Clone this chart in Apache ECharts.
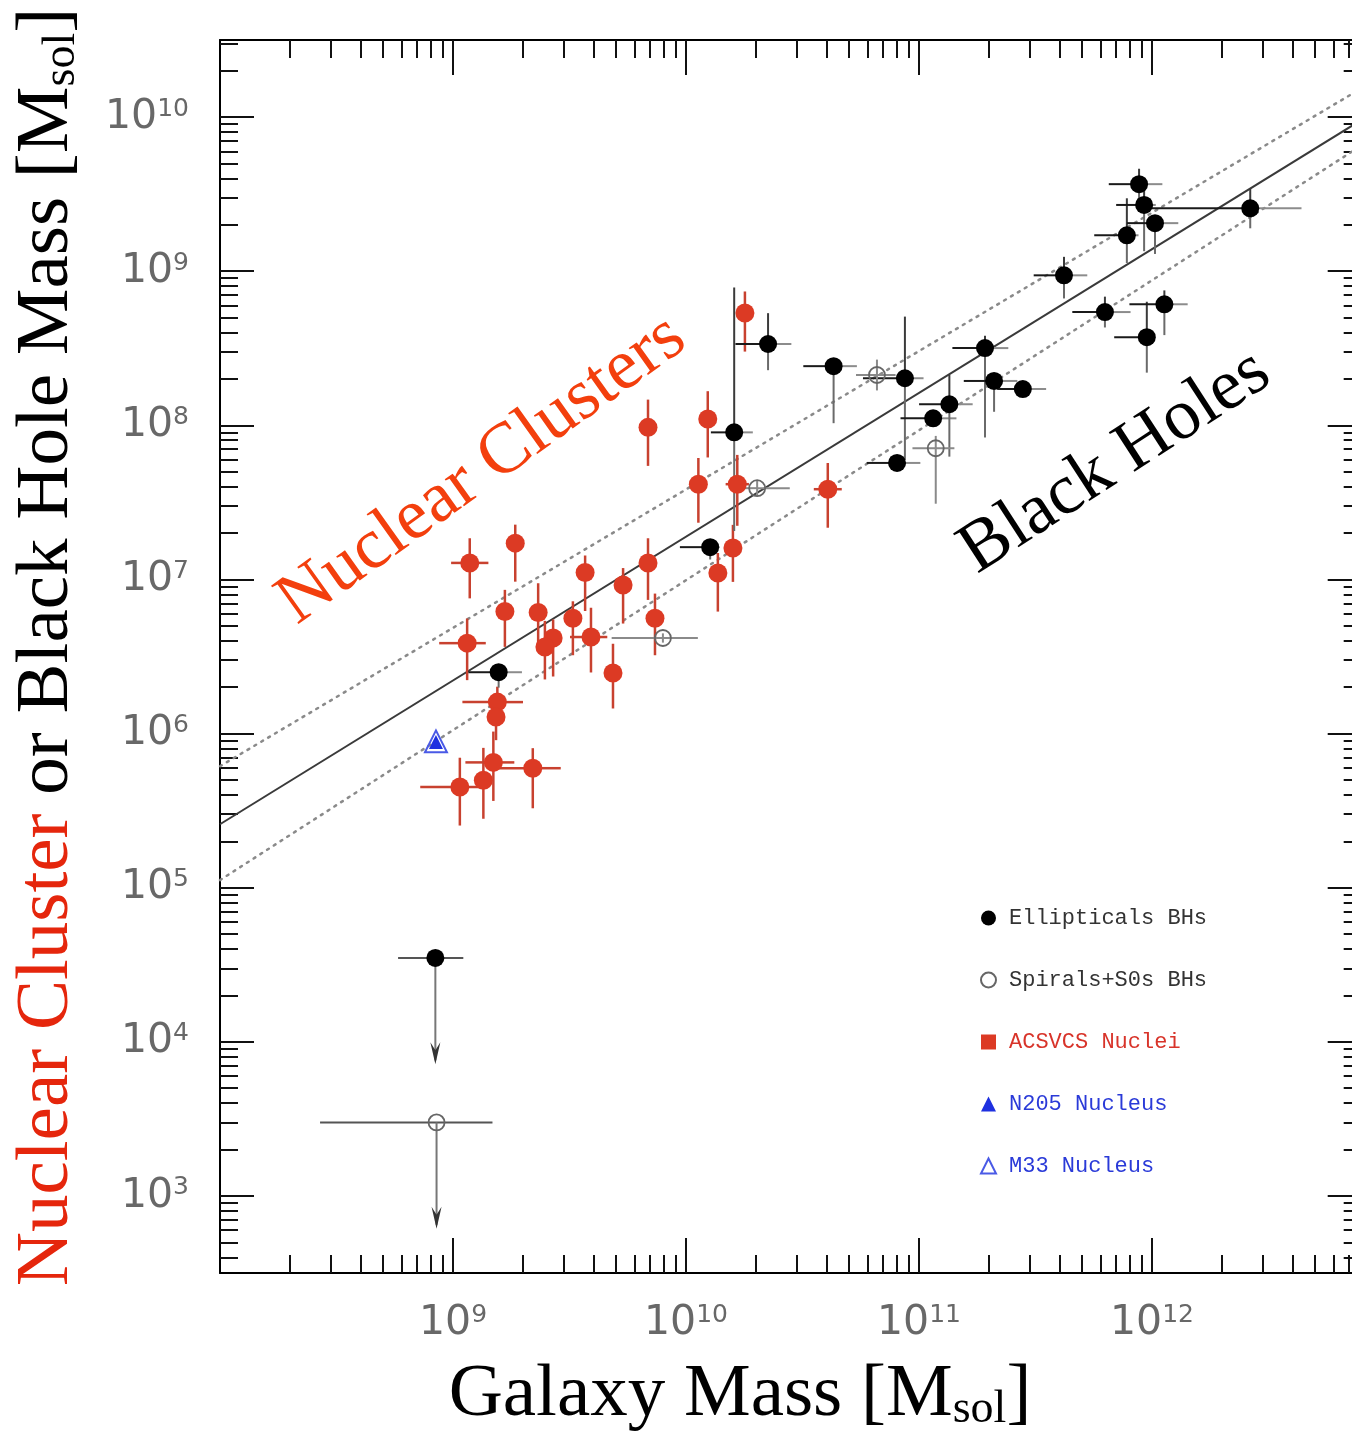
<!DOCTYPE html>
<html><head><meta charset="utf-8">
<script src="https://cdn.jsdelivr.net/npm/echarts@6/dist/echarts.min.js"></script>
<style>html,body{margin:0;padding:0;background:#fff}#c{width:1352px;height:1437px}</style>
</head><body><div id="c"></div>
<script>
// ---------------- DATA (masses in solar masses; error bars in dex [minus, plus]) ----------------
const X_TICK_EXP = [9, 10, 11, 12];
const Y_TICK_EXP = [3, 4, 5, 6, 7, 8, 9, 10];
const X_RANGE_DEX = [8, 12.9];
const Y_RANGE_DEX = [2.5, 10.5];

// Elliptical black holes (filled black circles)
const ELL_GAL = [1.57e9, 1.27e10, 1.61e10, 2.25e10, 4.3e10, 8.7e10, 8.05e10, 1.15e11, 1.35e11, 1.92e11, 2.1e11, 2.79e11, 4.19e11, 6.28e11, 9.5e11, 1.13e12, 7.8e11, 8.8e11, 9.25e11, 1.03e12, 2.64e12];
const ELL_BH  = [2.5e6, 1.62e7, 9.0e7, 3.37e8, 2.42e8, 2.02e8, 5.7e7, 1.11e8, 1.37e8, 3.17e8, 1.94e8, 1.72e8, 9.4e8, 5.43e8, 3.73e8, 6.1e8, 1.71e9, 3.67e9, 2.69e9, 2.05e9, 2.56e9];
const ELL_XERR = [[0.13,0.10],[0.13,0.04],[0.10,0.08],[0.14,0.10],[0.13,0.10],[0.18,0.08],[0.13,0.10],[0.14,0.10],[0.13,0.10],[0.14,0.10],[0.13,0.10],[0.11,0.10],[0.13,0.10],[0.14,0.11],[0.14,0.02],[0.15,0.10],[0.14,0.05],[0.13,0.10],[0.12,0.05],[0.12,0.10],[0.45,0.22]];
const ELL_YERR = [[0.10,0.05],[0.08,0.05],[0.64,0.94],[0.17,0.20],[0.37,0.05],[0.53,0.40],[0.05,0.05],[0.05,0.05],[0.34,0.19],[0.58,0.08],[0.20,0.05],[0.05,0.05],[0.15,0.12],[0.10,0.10],[0.23,0.23],[0.20,0.09],[0.18,0.24],[0.10,0.10],[0.30,0.10],[0.20,0.05],[0.13,0.13]];
// Elliptical upper limit
const ELL_UL_GAL = [8.4e8];
const ELL_UL_BH = [3.5e4];
const ELL_UL_XERR = [[0.16, 0.12]];

// Spirals + S0s black holes (open circles)
const SP_GAL = [7.96e9, 2.02e10, 6.6e10, 1.18e11];
const SP_BH  = [4.17e6, 3.91e7, 2.12e8, 7.1e7];
const SP_XERR = [[0.22,0.15],[0.07,0.14],[0.09,0.08],[0.10,0.08]];
const SP_YERR = [[0.03,0.03],[0.05,0.05],[0.10,0.10],[0.36,0.08]];
const SP_UL_GAL = [8.5e8];
const SP_UL_BH = [3.0e3];
const SP_UL_XERR = [[0.50, 0.24]];
const UL_ARROW_DEX = 0.69;

// ACSVCS nuclei (red)
const NUC_GAL = [1.79e10, 6.87e9, 1.24e10, 1.13e10, 1.66e10, 4.06e10, 1.59e10, 1.37e10, 1.85e9, 1.18e9, 3.69e9, 6.87e9, 5.37e9, 1.67e9, 2.32e9, 3.27e9, 7.36e9, 1.15e9, 2.69e9, 2.48e9, 3.91e9, 4.86e9, 1.55e9, 1.53e9, 1.49e9, 2.2e9, 1.07e9, 1.35e9];
const NUC_MASS = [5.35e8, 9.7e7, 1.10e8, 4.15e7, 4.15e7, 3.85e7, 1.60e7, 1.10e7, 1.72e7, 1.28e7, 1.11e7, 1.28e7, 9.2e6, 6.2e6, 6.1e6, 5.6e6, 5.6e6, 3.86e6, 4.17e6, 3.64e6, 4.23e6, 2.47e6, 1.60e6, 1.28e6, 6.5e5, 5.96e5, 4.5e5, 4.98e5];
const NUC_XERR = [[0.03,0.03],[0.03,0.03],[0.03,0.03],[0.03,0.03],[0.05,0.05],[0.06,0.06],[0.03,0.03],[0.03,0.03],[0.03,0.03],[0.08,0.08],[0.03,0.03],[0.03,0.03],[0.03,0.03],[0.03,0.03],[0.03,0.03],[0.03,0.03],[0.03,0.03],[0.12,0.08],[0.03,0.03],[0.03,0.03],[0.09,0.07],[0.03,0.03],[0.15,0.11],[0.03,0.03],[0.12,0.09],[0.15,0.12],[0.17,0.12],[0.03,0.03]];
const NUC_YERR = [[0.25,0.14],[0.25,0.18],[0.25,0.18],[0.25,0.17],[0.27,0.19],[0.25,0.17],[0.22,0.15],[0.25,0.13],[0.25,0.12],[0.23,0.16],[0.25,0.11],[0.24,0.16],[0.25,0.11],[0.23,0.14],[0.20,0.19],[0.24,0.11],[0.24,0.16],[0.24,0.16],[0.25,0.12],[0.21,0.17],[0.23,0.19],[0.23,0.19],[0.10,0.10],[0.15,0.10],[0.25,0.20],[0.26,0.13],[0.25,0.19],[0.25,0.21]];

// Local group nuclei
const N205_GAL = [8.45e8], N205_MASS = [8.8e5];
const M33_GAL = [8.45e8], M33_MASS = [8.9e5];

// Fit lines (endpoints)
const FIT_GAL = [1e8, 7.94e12];
const FIT_MID = [2.58e5, 9.6e9];
const FIT_HI  = [6.14e5, 1.54e10];
const FIT_LO  = [1.12e5, 6.55e9];

// ---------------- BUILD ----------------
const L = Math.log10;
function minors(lo, hi) {
  const out = [];
  for (let n = Math.floor(lo) - 1; n <= Math.ceil(hi); n++)
    for (let k = 2; k <= 9; k++) { const v = n + L(k); if (v > lo && v < hi) out.push(v); }
  return out;
}
const labelRich = {
  b: { fontSize: 41, color: '#686868', fontFamily: 'DejaVu Sans' },
  s: { fontSize: 25, color: '#686868', fontFamily: 'DejaVu Sans', verticalAlign: 'top' }
};
const fmt = v => '{b|10}{s|' + Math.round(v) + '}';
const tickStyle = { color: '#111', width: 2 };

function xAx(pos, major) {
  return {
    type: 'value', position: pos, min: X_RANGE_DEX[0], max: X_RANGE_DEX[1],
    axisLine: { show: major, onZero: false, lineStyle: { color: '#000', width: 2 } },
    axisTick: { show: true, inside: true, length: major ? 35 : 18, customValues: major ? X_TICK_EXP : minors(X_RANGE_DEX[0], X_RANGE_DEX[1]), lineStyle: tickStyle },
    axisLabel: (major && pos === 'bottom') ? { show: true, customValues: X_TICK_EXP, formatter: fmt, rich: labelRich, margin: 30 } : { show: false },
    splitLine: { show: false }
  };
}
function yAx(pos, major) {
  return {
    type: 'value', position: pos, min: Y_RANGE_DEX[0], max: Y_RANGE_DEX[1],
    axisLine: { show: major, onZero: false, lineStyle: { color: '#000', width: 2 } },
    axisTick: { show: true, inside: true, length: major ? 34 : 18, customValues: major ? Y_TICK_EXP : minors(Y_RANGE_DEX[0], Y_RANGE_DEX[1]), lineStyle: tickStyle },
    axisLabel: (major && pos === 'left') ? { show: true, customValues: Y_TICK_EXP, formatter: fmt, rich: labelRich, margin: 31 } : { show: false },
    splitLine: { show: false }
  };
}

function errData(gal, m, xe, ye) {
  return gal.map((g, i) => [L(g), L(m[i]), xe[i][0], xe[i][1], ye[i][0], ye[i][1]]);
}
function errRender(cols, w) {
  return function (params, api) {
    const x = api.value(0), y = api.value(1);
    const c = api.coord([x, y]);
    const pL = api.coord([x - api.value(2), y]), pR = api.coord([x + api.value(3), y]);
    const pD = api.coord([x, y - api.value(4)]), pU = api.coord([x, y + api.value(5)]);
    const seg = (a, b, col) => ({ type: 'line', shape: { x1: a[0], y1: a[1], x2: b[0], y2: b[1] }, style: { stroke: col, lineWidth: w } });
    return { type: 'group', children: [seg(pL, c, cols[0]), seg(c, pR, cols[1]), seg(c, pU, cols[2]), seg(c, pD, cols[3])] };
  };
}
function ulData(gal, m, xe) {
  return gal.map((g, i) => [L(g), L(m[i]), xe[i][0], xe[i][1], UL_ARROW_DEX]);
}
function ulRender(params, api) {
  const x = api.value(0), y = api.value(1);
  const c = api.coord([x, y]);
  const pL = api.coord([x - api.value(2), y]), pR = api.coord([x + api.value(3), y]);
  const tip = api.coord([x, y - api.value(4)]);
  return { type: 'group', children: [
    { type: 'line', shape: { x1: pL[0], y1: pL[1], x2: pR[0], y2: pR[1] }, style: { stroke: '#555', lineWidth: 2 } },
    { type: 'line', shape: { x1: c[0], y1: c[1], x2: tip[0], y2: tip[1] - 4 }, style: { stroke: '#777', lineWidth: 2 } },
    { type: 'polygon', shape: { points: [[tip[0], tip[1]], [tip[0] - 5, tip[1] - 22], [tip[0], tip[1] - 14], [tip[0] + 5, tip[1] - 22]] }, style: { fill: '#333' } }
  ] };
}
const pts = (gal, m) => gal.map((g, i) => [L(g), L(m[i])]);
const fitLine = (ys) => FIT_GAL.map((g, i) => [L(g), L(ys[i])]);

const series = [
  { type: 'line', name: 'fit', data: fitLine(FIT_MID), symbol: 'none', lineStyle: { color: '#3a3a3a', width: 2 }, z: 1, silent: true },
  { type: 'line', name: 'fit+', data: fitLine(FIT_HI), symbol: 'none', lineStyle: { color: '#8a8a8a', width: 2.5, type: [2, 6], cap: 'round' }, z: 1, silent: true },
  { type: 'line', name: 'fit-', data: fitLine(FIT_LO), symbol: 'none', lineStyle: { color: '#8a8a8a', width: 2.5, type: [2, 6], cap: 'round' }, z: 1, silent: true },
  { type: 'custom', name: 'nuc-err', data: errData(NUC_GAL, NUC_MASS, NUC_XERR, NUC_YERR), encode: { x: 0, y: 1 }, renderItem: errRender(['#c8412f', '#c8412f', '#c8412f', '#c8412f'], 2.5), z: 2, silent: true },
  { type: 'custom', name: 'ell-err', data: errData(ELL_GAL, ELL_BH, ELL_XERR, ELL_YERR), encode: { x: 0, y: 1 }, renderItem: errRender(['#1a1a1a', '#8c8c8c', '#3a3a3a', '#6a6a6a'], 2), z: 2, silent: true },
  { type: 'custom', name: 'sp-err', data: errData(SP_GAL, SP_BH, SP_XERR, SP_YERR), encode: { x: 0, y: 1 }, renderItem: errRender(['#8a8a8a', '#8a8a8a', '#8a8a8a', '#8a8a8a'], 2), z: 2, silent: true },
  { type: 'custom', name: 'ell-ul', data: ulData(ELL_UL_GAL, ELL_UL_BH, ELL_UL_XERR), encode: { x: 0, y: 1 }, renderItem: ulRender, z: 2, silent: true },
  { type: 'custom', name: 'sp-ul', data: ulData(SP_UL_GAL, SP_UL_BH, SP_UL_XERR), encode: { x: 0, y: 1 }, renderItem: ulRender, z: 2, silent: true },
  { type: 'scatter', name: 'ACSVCS Nuclei', data: pts(NUC_GAL, NUC_MASS), symbol: 'circle', symbolSize: 19, itemStyle: { color: '#dc3a24', opacity: 1 }, z: 3 },
  { type: 'scatter', name: 'Ellipticals BHs', data: pts(ELL_GAL.concat(ELL_UL_GAL), ELL_BH.concat(ELL_UL_BH)), symbol: 'circle', symbolSize: 18, itemStyle: { color: '#000', opacity: 1 }, z: 4 },
  { type: 'scatter', name: 'Spirals+S0s BHs', data: pts(SP_GAL.concat(SP_UL_GAL), SP_BH.concat(SP_UL_BH)), symbol: 'circle', symbolSize: 16, itemStyle: { color: 'rgba(255,255,255,0)', borderColor: '#666', borderWidth: 1.8, opacity: 1 }, z: 4 },
  { type: 'scatter', name: 'N205 Nucleus', data: pts(N205_GAL, N205_MASS), symbol: 'triangle', symbolSize: 14, itemStyle: { color: '#1e30e0', opacity: 1 }, z: 5 },
  { type: 'scatter', name: 'M33 Nucleus', data: pts(M33_GAL, M33_MASS), symbol: 'triangle', symbolSize: 22, itemStyle: { color: 'rgba(255,255,255,0)', borderColor: '#4a5ae6', borderWidth: 2, opacity: 1 }, z: 5 }
];

const chart = echarts.init(document.getElementById('c'), null, { renderer: 'canvas' });
chart.setOption({
  animation: false,
  backgroundColor: '#fff',
  grid: { left: 220, top: 40, width: 233 * (X_RANGE_DEX[1] - X_RANGE_DEX[0]), height: 1233, containLabel: false, outerBoundsMode: 'none' },
  xAxis: [xAx('bottom', true), xAx('bottom', false), xAx('top', true), xAx('top', false)],
  yAxis: [yAx('left', true), yAx('left', false), yAx('right', true), yAx('right', false)],
  legend: {
    orient: 'vertical', left: 975, top: 902, itemWidth: 15, itemHeight: 15, itemGap: 40,
    textStyle: { fontFamily: 'Liberation Mono', fontSize: 22, lineHeight: 22, padding: [0, 0, 0, 8] },
    data: [
      { name: 'Ellipticals BHs', icon: 'circle', textStyle: { color: '#333' } },
      { name: 'Spirals+S0s BHs', icon: 'circle', textStyle: { color: '#333' } },
      { name: 'ACSVCS Nuclei', icon: 'rect', textStyle: { color: '#d8342a' } },
      { name: 'N205 Nucleus', icon: 'triangle', textStyle: { color: '#2a3ad8' } },
      { name: 'M33 Nucleus', icon: 'triangle', textStyle: { color: '#2a3ad8' } }
    ]
  },
  graphic: [
    { type: 'text', x: 47, y: 647, rotation: Math.PI / 2, z: 10,
      style: { text: '{r|Nuclear Cluster} or Black Hole Mass [M{sub|sol}]', fontFamily: 'Liberation Serif', fontSize: 75, fill: '#000', align: 'center', verticalAlign: 'middle',
        rich: { r: { fill: '#e5260c', fontFamily: 'Liberation Serif', fontSize: 75 }, sub: { fontFamily: 'Liberation Serif', fontSize: 46, fill: '#000', verticalAlign: 'bottom' } } } },
    { type: 'text', x: 740, y: 1395, z: 10,
      style: { text: 'Galaxy Mass [M{sub|sol}]', fontFamily: 'Liberation Serif', fontSize: 75, fill: '#000', align: 'center', verticalAlign: 'middle',
        rich: { sub: { fontFamily: 'Liberation Serif', fontSize: 46, fill: '#000', verticalAlign: 'bottom' } } } },
    { type: 'text', x: 482, y: 470, rotation: 35.5 * Math.PI / 180, z: 10,
      style: { text: 'Nuclear Clusters', fontFamily: 'Liberation Serif', fontSize: 72, fill: '#f33f0d', align: 'center', verticalAlign: 'middle' } },
    { type: 'text', x: 1115, y: 462, rotation: 33 * Math.PI / 180, z: 10,
      style: { text: 'Black Holes', fontFamily: 'Liberation Serif', fontSize: 72, fill: '#000', align: 'center', verticalAlign: 'middle' } }
  ],
  series: series
});
</script></body></html>
